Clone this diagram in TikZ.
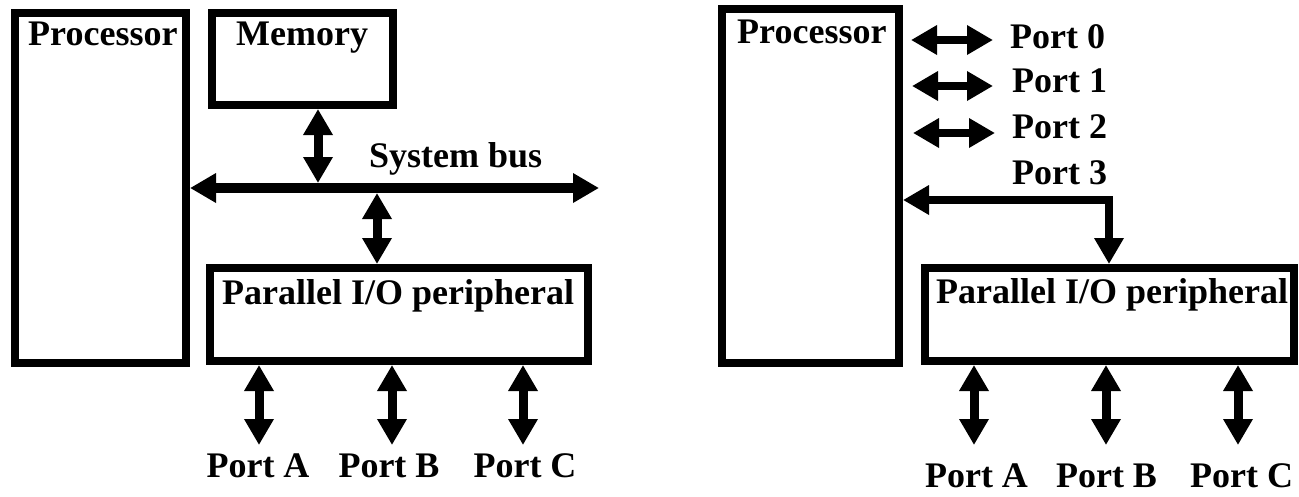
\documentclass[tikz,border=0pt]{standalone}
\usepackage{fontspec}
\setmainfont{Liberation Serif}
\usetikzlibrary{arrows.meta}
\newcommand\lbfont{\fontsize{36}{40}\selectfont\bfseries}
\tikzset{
  box/.style={draw, rectangle, line width=8pt, inner sep=0pt},
  lbl/.style={font=\lbfont, inner sep=0pt, anchor=base west},
  plbl/.style={font=\lbfont, inner sep=0pt, anchor=base},
  bi/.style={line width=9pt, {Triangle[length=26pt,width=28pt]}-{Triangle[length=26pt,width=28pt]}},
}
\begin{document}
\begin{tikzpicture}[x=1pt,y=-1pt]
\useasboundingbox (0,0) rectangle (1299,496);
% ---------- left panel ----------
\node[box, minimum width=171pt, minimum height=350.5pt] (proc1) at (100.5,187.75) {};
\node[lbl] (proc1t) at (28,45.5) {Processor};
\node[box, minimum width=181pt, minimum height=92.5pt] (mem) at (302.5,58.75) {};
\node[lbl] (memt) at (236,45.5) {Memory};
\node[box, minimum width=378pt, minimum height=93pt] (per1) at (399,314.5) {};
\node[lbl] (per1t) at (222,304) {Parallel I/O peripheral};
\node[lbl] (bust) at (369,167) {System bus};

\coordinate (busR) at (599,188);
\draw[bi, line width=10pt] (proc1.east |- busR) -- (busR);
\coordinate (m1) at (318,183);
\draw[bi] (mem.south -| m1) -- (m1);
\coordinate (m2) at (377,193);
\draw[bi] (m2) -- (m2 |- per1.north);

\coordinate (pa1) at (259,445);
\coordinate (pb1) at (392,445);
\coordinate (pc1) at (523,445);
\draw[bi] (pa1 |- per1.south) -- (pa1);
\draw[bi] (pb1 |- per1.south) -- (pb1);
\draw[bi] (pc1 |- per1.south) -- (pc1);
\node[plbl] (pa1t) at (258,477) {Port A};
\node[plbl] (pb1t) at (389,477) {Port B};
\node[plbl] (pc1t) at (525,477) {Port C};

% ---------- right panel ----------
\node[box, minimum width=177pt, minimum height=354pt] (proc2) at (810.5,186) {};
\node[lbl] (proc2t) at (737,43.5) {Processor};
\node[box, minimum width=369pt, minimum height=93pt] (per2) at (1109.5,314.5) {};
\node[lbl] (per2t) at (936,303.5) {Parallel I/O peripheral};

\node[lbl] (p0) at (1010,48.5) {Port 0};
\node[lbl] (p1) at (1012,92) {Port 1};
\node[lbl] (p2) at (1012,138) {Port 2};
\node[lbl] (p3) at (1012,184) {Port 3};

\coordinate (q0L) at (911,40);  \coordinate (q0R) at (993,40);
\coordinate (q1L) at (912,86);  \coordinate (q1R) at (993,86);
\coordinate (q2L) at (913,133); \coordinate (q2R) at (995,133);
\draw[bi, line width=8pt] (q0L) -- (q0R);
\draw[bi, line width=8pt] (q1L) -- (q1R);
\draw[bi, line width=8pt] (q2L) -- (q2R);

\coordinate (c3) at (1109,200);
\draw[bi, line width=8pt] (proc2.east |- c3) -- (c3) -- (c3 |- per2.north);

\coordinate (pa2) at (974,445);
\coordinate (pb2) at (1106,445);
\coordinate (pc2) at (1238,445);
\draw[bi] (pa2 |- per2.south) -- (pa2);
\draw[bi] (pb2 |- per2.south) -- (pb2);
\draw[bi] (pc2 |- per2.south) -- (pc2);
\node[plbl] (pa2t) at (976.5,487) {Port A};
\node[plbl] (pb2t) at (1106.5,487) {Port B};
\node[plbl] (pc2t) at (1241.5,487) {Port C};
\end{tikzpicture}
\end{document}
